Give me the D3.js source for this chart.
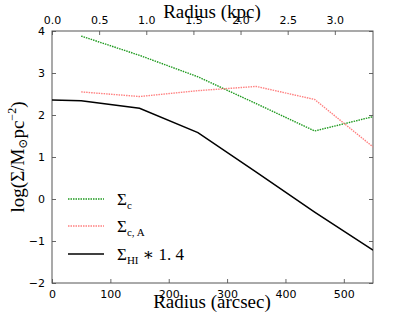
<!DOCTYPE html>
<html><head><meta charset="utf-8">
<script src="https://cdn.jsdelivr.net/npm/d3@7"></script>
<style>body{margin:0;background:#fff}</style>
</head><body>
<script>
const radii = [50, 150, 250, 350, 450, 550];
const sigmaC = [3.88, 3.42, 2.91, 2.27, 1.62, 1.96];
const sigmaCA = [2.55, 2.44, 2.58, 2.68, 2.37, 1.24];
const hiRadii = [0, 50, 150, 250, 350, 450, 550];
const sigmaHI = [2.36, 2.34, 2.16, 1.58, 0.64, -0.31, -1.22];
const xTicks = [0, 100, 200, 300, 400, 500];
const yTicks = [-2, -1, 0, 1, 2, 3, 4];
const kpcTicks = [0.0, 0.5, 1.0, 1.5, 2.0, 2.5, 3.0];

const W = 415, H = 312;
const L = 52, R = 373, T = 31, B = 283;
const svg = d3.select("body").append("svg").attr("width", W).attr("height", H);
const x = d3.scaleLinear().domain([0, 550]).range([L, R]);
const xk = d3.scaleLinear().domain([0, 3.405]).range([L, R]);
const y = d3.scaleLinear().domain([-2, 4]).range([B, T]);

const tickFont = "DejaVu Sans, sans-serif";
const serif = "Liberation Serif, DejaVu Serif, serif";

function styleAxis(g){
  g.select(".domain").remove();
  g.selectAll(".tick line").attr("stroke", "#000").attr("stroke-width", 0.6);
  g.selectAll(".tick text").attr("font-family", tickFont).attr("font-size", 11).attr("fill", "#000");
}
svg.append("g").attr("transform", `translate(0,${B})`)
  .call(d3.axisBottom(x).tickValues(xTicks).tickSize(-4).tickPadding(7).tickFormat(d3.format("d")))
  .call(styleAxis);
svg.append("g").attr("transform", `translate(0,${T})`)
  .call(d3.axisTop(xk).tickValues(kpcTicks).tickSize(-4).tickPadding(7).tickFormat(d3.format(".1f")))
  .call(styleAxis);
svg.append("g").attr("transform", `translate(${L},0)`)
  .call(d3.axisLeft(y).tickValues(yTicks).tickSize(-4).tickPadding(7).tickFormat(d => d < 0 ? "\u2212" + Math.abs(d) : d))
  .call(styleAxis);
svg.append("g").attr("transform", `translate(${R},0)`)
  .call(d3.axisRight(y).tickValues(yTicks).tickSize(-4).tickFormat(""))
  .call(styleAxis);

svg.append("rect").attr("x", L).attr("y", T).attr("width", R - L).attr("height", B - T)
  .attr("fill", "none").attr("stroke", "#555").attr("stroke-width", 1);

svg.append("clipPath").attr("id", "c").append("rect")
  .attr("x", L).attr("y", T).attr("width", R - L).attr("height", B - T);

const line = d3.line().x(d => x(d[0])).y(d => y(d[1]));
const plot = svg.append("g").attr("clip-path", "url(#c)");
const series = [
  {r: radii, v: sigmaC, color: "#1f9a1f", dash: "1.5,1", w: 1.4},
  {r: radii, v: sigmaCA, color: "#ff8080", dash: "1.5,1", w: 1.4},
  {r: hiRadii, v: sigmaHI, color: "#000", dash: null, w: 1.5}
];
series.forEach(s => {
  plot.append("path").datum(s.r.map((r, i) => [r, s.v[i]]))
    .attr("d", line).attr("fill", "none").attr("stroke", s.color)
    .attr("stroke-width", s.w).attr("stroke-dasharray", s.dash);
});

const leg = svg.append("g");
const legY = [199, 226, 254];
const legTxt = [
  [["Σ", 0], ["c", 1]],
  [["Σ", 0], ["c, A", 1]],
  [["Σ", 0], ["HI", 1], [" ∗ 1. 4", 0]]
];
series.forEach((s, i) => {
  leg.append("line").attr("x1", 68).attr("x2", 104).attr("y1", legY[i]).attr("y2", legY[i])
    .attr("stroke", s.color).attr("stroke-width", s.w).attr("stroke-dasharray", s.dash);
  const t = leg.append("text").attr("x", 117).attr("y", legY[i] + 6)
    .attr("font-family", serif).attr("font-size", 17).attr("fill", "#000");
  legTxt[i].forEach(p => {
    const ts = t.append("tspan").text(p[0]);
    if (p[1]) ts.attr("font-size", 11).attr("dy", 4);
    else if (p[0] !== "Σ") ts.attr("dy", -4);
  });
});

svg.append("text").attr("x", 212).attr("y", 18).attr("text-anchor", "middle")
  .attr("font-family", serif).attr("font-size", 19).text("Radius (kpc)");
svg.append("text").attr("x", 212).attr("y", 308).attr("text-anchor", "middle")
  .attr("font-family", serif).attr("font-size", 19).text("Radius (arcsec)");
const yl = svg.append("text").attr("transform", "translate(24,157) rotate(-90)").attr("text-anchor", "middle")
  .attr("font-family", serif).attr("font-size", 19);
yl.append("tspan").text("log(Σ/M");
yl.append("tspan").attr("font-size", 12).attr("dy", 3).text("⊙");
yl.append("tspan").attr("dy", -3).text("pc");
yl.append("tspan").attr("font-size", 12).attr("dy", -8).text("−2");
yl.append("tspan").attr("dy", 8).text(")");
</script>
</body></html>
